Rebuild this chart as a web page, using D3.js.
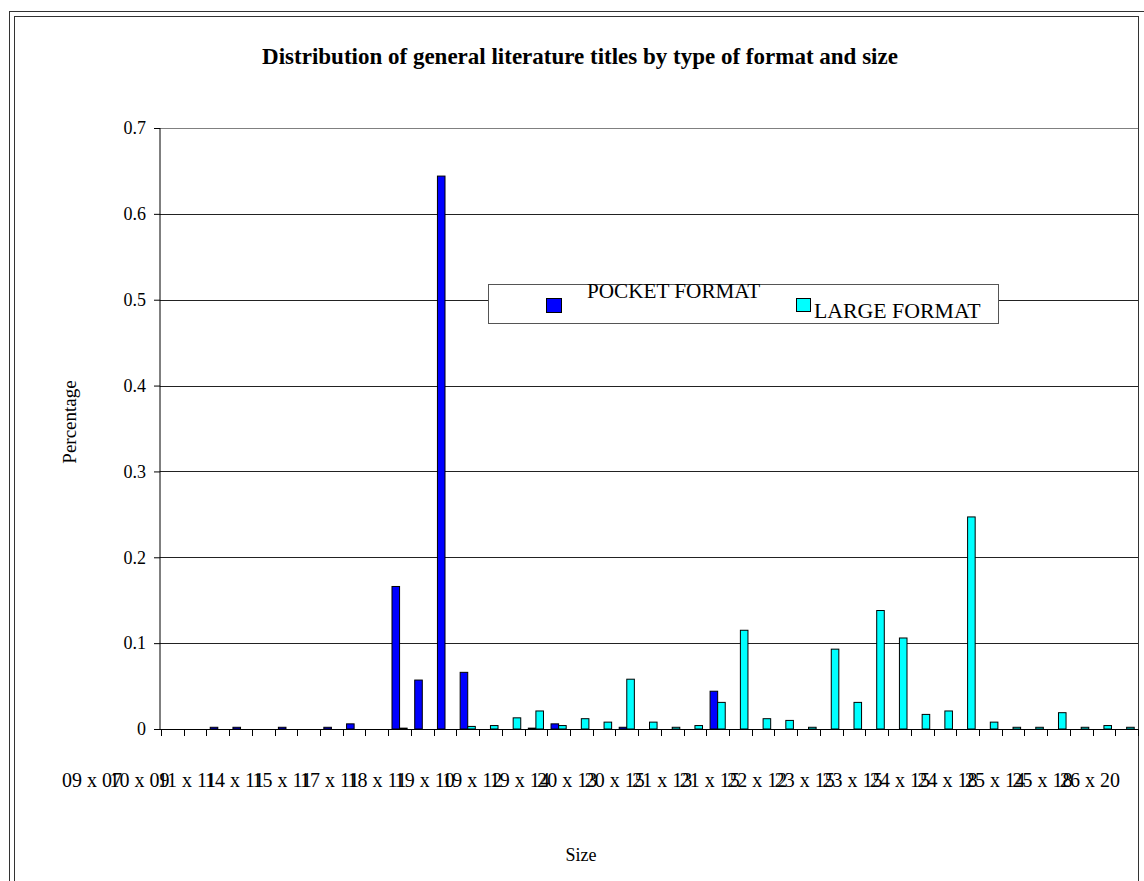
<!DOCTYPE html>
<html>
<head>
<meta charset="utf-8">
<script src="https://cdn.jsdelivr.net/npm/d3@7"></script>
<style>
html,body{margin:0;padding:0;background:#fff;}
svg{display:block;font-family:"Liberation Serif","Times New Roman",serif;}
svg text{font-family:"Liberation Serif","Times New Roman",serif;}
</style>
</head>
<body>
<svg id="chart" width="1144" height="881"></svg>
<script>
// ---- data ----
const chartTitle = "Distribution of general literature titles by type of format and size";
const seriesNames = ["POCKET FORMAT", "LARGE FORMAT"];
const tickLabels = ["09 x 07","10 x 09","11 x 11","14 x 11","15 x 11","17 x 11","18 x 11","19 x 10",
  "19 x 12","19 x 14","20 x 13","20 x 15","21 x 13","21 x 15","22 x 12","23 x 15","23 x 15",
  "24 x 15","24 x 18","25 x 14","25 x 18","26 x 20"];
const categories = d3.range(43); // 43 size classes, every other one labelled
const pocketValues = [0,0,0.002,0.002,0,0.002,0,0.002,0.006,0,
  0.166,0.057,0.644,0.066,0,0,0.001,0.006,0,0,
  0.002,0,0,0,0.044,0,0,0,0,0,
  0,0,0,0,0,0,0,0,0,0,
  0,0,0];
const largeValues = [0,0,0,0,0,0,0,0,0,0,
  0.001,0,0,0.003,0.004,0.013,0.021,0.004,0.012,0.008,
  0.058,0.008,0.002,0.004,0.031,0.115,0.012,0.010,0.002,0.093,
  0.031,0.138,0.106,0.017,0.021,0.247,0.008,0.002,0.002,0.019,
  0.002,0.004,0.002];
const yTicks = [0,0.1,0.2,0.3,0.4,0.5,0.6,0.7];
const colors = ["#0000FF", "#00FFFF"];

// ---- layout ----
const svg = d3.select("#chart");
const pLeft = 161, pRight = 1138, pTop = 128, pBottom = 729;
const serif = "Liberation Serif";

// frame (double border)
svg.append("rect").attr("x",9.5).attr("y",11.5).attr("width",1150).attr("height",900)
  .attr("fill","none").attr("stroke","#333");
svg.append("rect").attr("x",14.5).attr("y",16.5).attr("width",1124).attr("height",900)
  .attr("fill","none").attr("stroke","#333");

const x = d3.scaleBand().domain(categories).range([pLeft, pRight]).padding(0);
const xs = d3.scaleBand().domain([0,1]).range([0, x.bandwidth()]).paddingInner(0).paddingOuter(0.5);
const y = d3.scaleLinear().domain([0,0.7]).range([pBottom, pTop]);

// gridlines
const grid = svg.append("g").attr("transform",`translate(${pLeft-1},0)`)
  .call(d3.axisLeft(y).tickValues(yTicks.slice(1,7)).tickSize(-(pRight-pLeft+1)).tickFormat(""));
grid.select(".domain").remove();
grid.selectAll("line").attr("stroke","#222").attr("shape-rendering","crispEdges");

// plot border top
svg.append("line").attr("x1",pLeft-1).attr("x2",pRight).attr("y1",Math.round(y(0.7))+0.5).attr("y2",Math.round(y(0.7))+0.5)
  .attr("stroke","#808080");

// y axis
const yAxis = svg.append("g").attr("transform",`translate(${pLeft-1},0)`)
  .call(d3.axisLeft(y).tickValues(yTicks).tickSize(6).tickPadding(8).tickFormat(d3.format("")));
yAxis.attr("font-family", serif).attr("font-size", 18);
yAxis.select(".domain").attr("stroke","#000").attr("d",`M0,${y(0.7)}V${y(0)}`);
yAxis.selectAll("line").attr("stroke","#000");
yAxis.selectAll("text").attr("fill","#000");

// bars
const series = [pocketValues, largeValues];
series.forEach((vals, si) => {
  svg.append("g").selectAll("rect").data(categories.filter(i => vals[i] > 0)).join("rect")
    .attr("x", i => x(i) + xs(si))
    .attr("y", i => y(vals[i]))
    .attr("width", xs.bandwidth())
    .attr("height", i => y(0) - y(vals[i]))
    .attr("fill", colors[si])
    .attr("stroke","#000").attr("stroke-width",1);
});

// x axis
const xAxis = svg.append("g").attr("transform",`translate(0,${pBottom})`)
  .call(d3.axisBottom(x).tickSize(0).tickFormat(""));
xAxis.select(".domain").attr("stroke","#000").attr("d",`M${pLeft-1},0.5H${pRight}`);
xAxis.selectAll(".tick").remove();
// category boundary ticks
const boundaries = categories.map(i => x(i)).concat([pRight]);
svg.append("g").selectAll("line").data(boundaries).join("line")
  .attr("x1", d => Math.round(d)+0.5).attr("x2", d => Math.round(d)+0.5)
  .attr("y1", pBottom).attr("y2", pBottom+7).attr("stroke","#000");

// x tick labels (every other category, overlapping as in original)
const xl = d3.scalePoint().domain(d3.range(tickLabels.length)).range([92, 1090]);
svg.append("g").selectAll("text").data(tickLabels).join("text")
  .attr("x", (d,i) => xl(i)).attr("y", 787)
  .attr("text-anchor","middle").attr("font-size",20).text(d => d);

// titles
svg.append("text").attr("x",580).attr("y",64).attr("text-anchor","middle")
  .attr("font-size",23).attr("font-weight","bold").text(chartTitle);
svg.append("text").attr("x",581).attr("y",861).attr("text-anchor","middle")
  .attr("font-size",18).text("Size");
svg.append("text").attr("transform","translate(76,422) rotate(-90)").attr("text-anchor","middle")
  .attr("font-size",19).text("Percentage");

// legend
const lg = svg.append("g");
lg.append("rect").attr("x",488.5).attr("y",284.5).attr("width",510).attr("height",39)
  .attr("fill","#fff").attr("stroke","#555");
lg.append("rect").attr("x",546.5).attr("y",298.5).attr("width",15).attr("height",14)
  .attr("fill",colors[0]).attr("stroke","#000");
lg.append("text").attr("x",587).attr("y",298).attr("font-size",21.2).text(seriesNames[0]);
lg.append("rect").attr("x",796.5).attr("y",298.5).attr("width",14).attr("height",13)
  .attr("fill",colors[1]).attr("stroke","#000");
lg.append("text").attr("x",814).attr("y",318).attr("font-size",21.8).text(seriesNames[1]);
</script>
</body>
</html>
